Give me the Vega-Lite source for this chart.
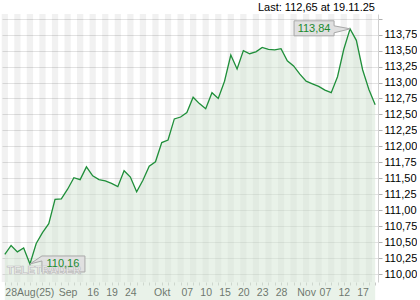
{
  "$schema": "https://vega.github.io/schema/vega-lite/v6.json",
  "width": 376,
  "height": 268,
  "padding": {"left": 1, "top": 2, "right": 0, "bottom": 0},
  "background": "white",
  "title": {"text": "Last: 112,65 at 19.11.25", "anchor": "end", "frame": "group", "fontSize": 11, "fontWeight": "normal", "font": "Liberation Sans", "color": "#000000", "offset": 1, "dx": -3},
  "config": {"view": {"stroke": null}, "font": "Liberation Sans"},
  "datasets": {
    "prices": [
      {"date": "2025-08-27", "price": 110.31},
      {"date": "2025-08-28", "price": 110.45},
      {"date": "2025-08-29", "price": 110.35},
      {"date": "2025-09-01", "price": 110.41},
      {"date": "2025-09-02", "price": 110.16},
      {"date": "2025-09-03", "price": 110.48},
      {"date": "2025-09-04", "price": 110.65},
      {"date": "2025-09-05", "price": 110.79},
      {"date": "2025-09-08", "price": 111.17},
      {"date": "2025-09-09", "price": 111.18},
      {"date": "2025-09-10", "price": 111.33},
      {"date": "2025-09-11", "price": 111.51},
      {"date": "2025-09-12", "price": 111.48},
      {"date": "2025-09-15", "price": 111.68},
      {"date": "2025-09-16", "price": 111.54},
      {"date": "2025-09-17", "price": 111.48},
      {"date": "2025-09-18", "price": 111.46},
      {"date": "2025-09-19", "price": 111.42},
      {"date": "2025-09-22", "price": 111.37},
      {"date": "2025-09-23", "price": 111.62},
      {"date": "2025-09-24", "price": 111.52},
      {"date": "2025-09-25", "price": 111.29},
      {"date": "2025-09-26", "price": 111.47},
      {"date": "2025-09-29", "price": 111.69},
      {"date": "2025-09-30", "price": 111.76},
      {"date": "2025-10-01", "price": 112.06},
      {"date": "2025-10-02", "price": 112.10},
      {"date": "2025-10-03", "price": 112.43},
      {"date": "2025-10-06", "price": 112.46},
      {"date": "2025-10-07", "price": 112.53},
      {"date": "2025-10-08", "price": 112.77},
      {"date": "2025-10-09", "price": 112.67},
      {"date": "2025-10-10", "price": 112.59},
      {"date": "2025-10-13", "price": 112.84},
      {"date": "2025-10-14", "price": 112.75},
      {"date": "2025-10-15", "price": 113.02},
      {"date": "2025-10-16", "price": 113.43},
      {"date": "2025-10-17", "price": 113.21},
      {"date": "2025-10-20", "price": 113.50},
      {"date": "2025-10-21", "price": 113.45},
      {"date": "2025-10-22", "price": 113.48},
      {"date": "2025-10-23", "price": 113.55},
      {"date": "2025-10-24", "price": 113.52},
      {"date": "2025-10-27", "price": 113.51},
      {"date": "2025-10-28", "price": 113.53},
      {"date": "2025-10-29", "price": 113.34},
      {"date": "2025-10-30", "price": 113.26},
      {"date": "2025-10-31", "price": 113.13},
      {"date": "2025-11-04", "price": 113.02},
      {"date": "2025-11-05", "price": 112.98},
      {"date": "2025-11-06", "price": 112.94},
      {"date": "2025-11-07", "price": 112.88},
      {"date": "2025-11-10", "price": 112.84},
      {"date": "2025-11-11", "price": 113.09},
      {"date": "2025-11-12", "price": 113.52},
      {"date": "2025-11-13", "price": 113.84},
      {"date": "2025-11-14", "price": 113.66},
      {"date": "2025-11-17", "price": 113.20},
      {"date": "2025-11-18", "price": 112.89},
      {"date": "2025-11-19", "price": 112.65}
    ],
    "high": [{"date": "2025-11-13", "price": 113.84, "label": "113,84"}],
    "low": [{"date": "2025-09-02", "price": 110.16, "label": "110,16"}]
  },
  "encoding": {
    "x": {
      "field": "date", "type": "ordinal",
      "scale": {"type": "point", "padding": 0.45},
      "axis": {
        "title": null, "domain": false, "labelAngle": 0, "labelOverlap": false,
        "tickSize": 3, "tickColor": "#c8c8c8", "labelPadding": 2,
        "labelFontSize": 10.5, "labelColor": "#000000", "labelFont": "Liberation Sans",
        "labelAlign": {"condition": {"test": "datum.value == '2025-08-27'", "value": "left"}, "value": "center"},
        "labelExpr": "{'2025-08-27':'28Aug(25)','2025-09-10':'Sep','2025-09-16':'16','2025-09-19':'19','2025-09-24':'24','2025-10-01':'Okt','2025-10-07':'07','2025-10-10':'10','2025-10-15':'15','2025-10-20':'20','2025-10-23':'23','2025-10-28':'28','2025-11-04':'Nov','2025-11-07':'07','2025-11-12':'12','2025-11-17':'17'}[datum.value] || ''",
        "grid": false
      }
    },
    "y": {
      "field": "price", "type": "quantitative",
      "scale": {"domain": [109.878, 114.072], "nice": false, "zero": false},
      "axis": {
        "title": null, "orient": "right",
        "values": [110, 110.25, 110.5, 110.75, 111, 111.25, 111.5, 111.75, 112, 112.25, 112.5, 112.75, 113, 113.25, 113.5, 113.75, 114],
        "labelExpr": "datum.value > 113.9 ? '' : replace(format(datum.value, '.2f'), '.', ',')",
        "domain": true, "domainColor": "#d0d0d0", "tickSize": 4, "tickColor": "#b0b0b0",
        "labelPadding": 2, "labelFontSize": 11, "labelColor": "#000000", "labelFont": "Liberation Sans",
        "grid": true, "gridColor": "#e2e2e2", "gridWidth": 1
      }
    }
  },
  "layer": [
    {
      "data": {"name": "prices"},
      "transform": [{"window": [{"op": "row_number", "as": "n"}]}, {"filter": "datum.n % 2 == 1"}],
      "mark": {"type": "bar", "width": 6.3, "color": "#000000", "opacity": 0.055},
      "encoding": {"y": {"value": 0}, "y2": {"value": "height"}}
    },
    {"data": {"name": "prices"}, "mark": {"type": "area", "color": "#d4e6d4", "opacity": 0.5}},
    {"data": {"name": "prices"}, "mark": {"type": "line", "color": "#1f8f3a", "strokeWidth": 1.3}},
    {"data": {"name": "low"}, "mark": {"type": "point", "shape": "M0,0L12,-8H55V8H12V-3Z", "size": 4, "filled": true, "fill": "#e0e0e0", "stroke": "#a8a8a8", "strokeWidth": 1, "opacity": 1}},
    {"data": {"name": "low"}, "mark": {"type": "text", "text": "TELETRADER", "dx": 14, "dy": 7, "align": "center", "baseline": "middle", "fontSize": 11, "fontWeight": "bold", "font": "Liberation Sans", "fill": "#f4f4f4", "stroke": "#bdbdbd", "strokeWidth": 0.7}},
    {"data": {"name": "low"}, "mark": {"type": "text", "dx": 33, "dy": 0, "align": "center", "baseline": "middle", "fontSize": 11, "font": "Liberation Sans", "color": "#1a8a2e"}, "encoding": {"text": {"field": "label"}}},
    {"data": {"name": "high"}, "mark": {"type": "point", "shape": "M0,0L-16,4V7H-56V-8H-16V-3Z", "size": 4, "filled": true, "fill": "#e0e0e0", "stroke": "#a8a8a8", "strokeWidth": 1, "opacity": 1}},
    {"data": {"name": "high"}, "mark": {"type": "text", "dx": -36, "dy": 0, "align": "center", "baseline": "middle", "fontSize": 11, "font": "Liberation Sans", "color": "#1a8a2e"}, "encoding": {"text": {"field": "label"}}}
  ]
}
